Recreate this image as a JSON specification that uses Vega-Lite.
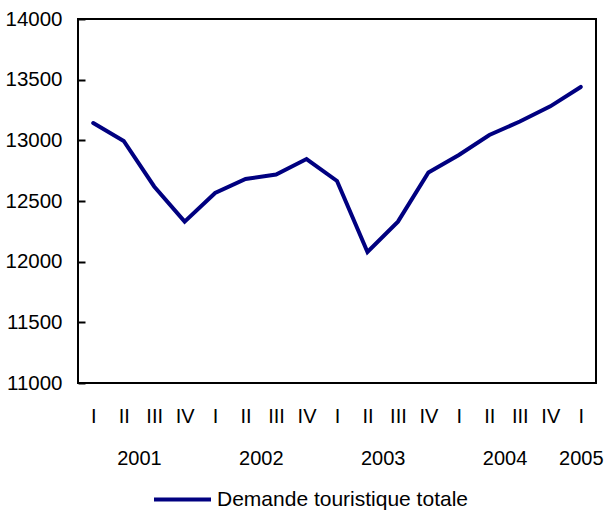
{
  "$schema": "https://vega.github.io/schema/vega-lite/v6.json",
  "width": 518,
  "height": 364,
  "autosize": {"type": "none"},
  "padding": {"left": 78, "top": 19, "right": 13, "bottom": 128},
  "background": "#ffffff",
  "config": {
    "font": "Liberation Sans",
    "view": {"stroke": "#000000", "strokeWidth": 2}
  },
  "data": {
    "values": [
      {"t": 1, "year": 2001, "quarter": "I", "value": 13143, "series": "Demande touristique totale"},
      {"t": 2, "year": 2001, "quarter": "II", "value": 12995, "series": "Demande touristique totale"},
      {"t": 3, "year": 2001, "quarter": "III", "value": 12620, "series": "Demande touristique totale"},
      {"t": 4, "year": 2001, "quarter": "IV", "value": 12330, "series": "Demande touristique totale"},
      {"t": 5, "year": 2002, "quarter": "I", "value": 12566, "series": "Demande touristique totale"},
      {"t": 6, "year": 2002, "quarter": "II", "value": 12681, "series": "Demande touristique totale"},
      {"t": 7, "year": 2002, "quarter": "III", "value": 12718, "series": "Demande touristique totale"},
      {"t": 8, "year": 2002, "quarter": "IV", "value": 12846, "series": "Demande touristique totale"},
      {"t": 9, "year": 2003, "quarter": "I", "value": 12665, "series": "Demande touristique totale"},
      {"t": 10, "year": 2003, "quarter": "II", "value": 12080, "series": "Demande touristique totale"},
      {"t": 11, "year": 2003, "quarter": "III", "value": 12330, "series": "Demande touristique totale"},
      {"t": 12, "year": 2003, "quarter": "IV", "value": 12735, "series": "Demande touristique totale"},
      {"t": 13, "year": 2004, "quarter": "I", "value": 12879, "series": "Demande touristique totale"},
      {"t": 14, "year": 2004, "quarter": "II", "value": 13044, "series": "Demande touristique totale"},
      {"t": 15, "year": 2004, "quarter": "III", "value": 13155, "series": "Demande touristique totale"},
      {"t": 16, "year": 2004, "quarter": "IV", "value": 13280, "series": "Demande touristique totale"},
      {"t": 17, "year": 2005, "quarter": "I", "value": 13440, "series": "Demande touristique totale"}
    ]
  },
  "mark": {"type": "line", "strokeWidth": 4, "strokeCap": "round"},
  "encoding": {
    "x": {
      "field": "t",
      "type": "quantitative",
      "scale": {"domain": [0.5, 17.5], "nice": false, "zero": false},
      "axis": {
        "title": null,
        "values": [1, 2, 3, 4, 5, 6, 7, 8, 9, 10, 11, 12, 13, 14, 15, 16, 17, 2.5, 6.5, 10.5, 14.5],
        "labelExpr": "datum.value % 1 ? ['', '' + (2001 + floor(datum.value / 4))] : (datum.value == 17 ? ['I', '2005'] : ['I', 'II', 'III', 'IV'][(datum.value - 1) % 4])",
        "domain": false,
        "ticks": false,
        "grid": false,
        "labelFontSize": 20,
        "labelColor": "#000000",
        "labelPadding": 23,
        "labelLineHeight": 42,
        "labelOverlap": false,
        "labelFlush": false
      }
    },
    "y": {
      "field": "value",
      "type": "quantitative",
      "scale": {"domain": [11000, 14000], "nice": false, "zero": false},
      "axis": {
        "title": null,
        "values": [11000, 11500, 12000, 12500, 13000, 13500, 14000],
        "format": "d",
        "offset": -7,
        "domain": false,
        "grid": false,
        "ticks": true,
        "tickSize": 7,
        "tickWidth": 2,
        "tickColor": "#000000",
        "labelFontSize": 20.5,
        "labelColor": "#000000",
        "labelPadding": 16
      }
    },
    "color": {
      "field": "series",
      "type": "nominal",
      "scale": {"range": ["#000080"]},
      "legend": {
        "title": null,
        "orient": "none",
        "legendX": 74,
        "legendY": 450,
        "padding": 0,
        "symbolType": "stroke",
        "symbolSize": 3249,
        "symbolStrokeWidth": 4,
        "labelFontSize": 21,
        "labelLimit": 500,
        "labelColor": "#000000",
        "labelOffset": 4
      }
    }
  }
}
